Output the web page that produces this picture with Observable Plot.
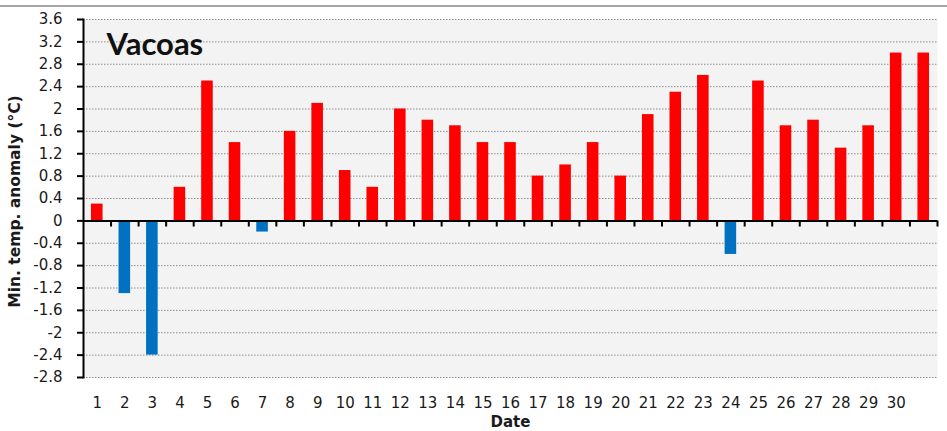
<!DOCTYPE html>
<html>
<head>
<meta charset="utf-8">
<script src="https://cdn.jsdelivr.net/npm/d3@7"></script>
<script src="https://cdn.jsdelivr.net/npm/@observablehq/plot@0.6"></script>
<style>
  html, body { margin: 0; padding: 0; background: white; }
  #wrap { position: relative; width: 947px; height: 431px; }
  #topline { position: absolute; left: 0; top: 5px; width: 947px; height: 2px; background: #a6a6a6; }
</style>
</head>
<body>
<div id="wrap"><div id="topline"></div></div>
<script>
const dates = [1,2,3,4,5,6,7,8,9,10,11,12,13,14,15,16,17,18,19,20,21,22,23,24,25,26,27,28,29,30,31];
const anomalies = [0.3,-1.3,-2.4,0.6,2.5,1.4,-0.2,1.6,2.1,0.9,0.6,2.0,1.8,1.7,1.4,1.4,0.8,1.0,1.4,0.8,1.9,2.3,2.6,-0.6,2.5,1.7,1.8,1.3,1.7,3.0,3.0];
const xLabels = ["1","2","3","4","5","6","7","8","9","10","11","12","13","14","15","16","17","18","19","20","21","22","23","24","25","26","27","28","29","30",""];
const yTicks = [-2.8,-2.4,-2,-1.6,-1.2,-0.8,-0.4,0,0.4,0.8,1.2,1.6,2,2.4,2.8,3.2,3.6];
const yTickLabels = ["-2.8","-2.4","-2","-1.6","-1.2","-0.8","-0.4","0","0.4","0.8","1.2","1.6","2","2.4","2.8","3.2","3.6"];
const stationName = "Vacoas";
const xTitle = "Date";
const yTitle = "Min. temp. anomaly (°C)";

const data = dates.map((d, i) => ({date: d, v: anomalies[i]}));
const W = 947, H = 431, ML = 83, MR = 10, MT = 19, MB = 54;
const step = (W - ML - MR) / dates.length;

const chart = Plot.plot({
  width: W, height: H,
  marginLeft: ML, marginRight: MR, marginTop: MT, marginBottom: MB,
  style: {fontFamily: "'DejaVu Sans', sans-serif", fontSize: "15px", color: "#1a1a1a", background: "transparent", overflow: "visible"},
  x: {type: "band", domain: dates, paddingInner: 0.58, paddingOuter: 0.29, round: false, label: null},
  y: {domain: [-2.8, 3.6], label: null},
  marks: [
    Plot.frame({fill: "#f3f3f3"}),
    Plot.ruleY(yTicks.filter(v => v !== 0), {stroke: "#8c8c8c", strokeDasharray: "1.5,1.5", strokeWidth: 1}),
    Plot.barY(data.filter(d => d.v >= 0), {x: "date", y: "v", fill: "#ff0000"}),
    Plot.barY(data.filter(d => d.v < 0), {x: "date", y: "v", fill: "#0070c0"}),
    Plot.ruleY([0], {stroke: "black", strokeWidth: 2}),
    Plot.ruleX(dates, {x: d => d, y1: 0, y2: -0.11, dx: step / 2, stroke: "black", strokeWidth: 2}),
    Plot.frame({anchor: "left", stroke: "black", strokeWidth: 2}),
    Plot.axisY({ticks: yTicks, tickFormat: d => yTickLabels[yTicks.indexOf(d)], tickSize: 6, tickPadding: 15, stroke: "black", strokeWidth: 2, label: null}),
    Plot.axisX({tickSize: 0, tickPadding: 20, tickFormat: d => xLabels[dates.indexOf(d)], label: null}),
    Plot.text([xTitle], {frameAnchor: "bottom", dy: 39, lineAnchor: "top", textAnchor: "middle", fontWeight: "bold", fontSize: 15, fill: "#1a1a1a"}),
    Plot.text([yTitle], {frameAnchor: "left", dx: -68, dy: 3, rotate: -90, textAnchor: "middle", lineAnchor: "middle", fontWeight: "bold", fontSize: 15.5, fill: "#1a1a1a"}),
    Plot.text([stationName], {frameAnchor: "top-left", dx: 23, dy: 13, lineAnchor: "top", textAnchor: "start", fontFamily: "Lato, 'Open Sans', sans-serif", fontWeight: "bold", fontSize: 31, fill: "#111"})
  ]
});
document.getElementById("wrap").appendChild(chart);
</script>
</body>
</html>
